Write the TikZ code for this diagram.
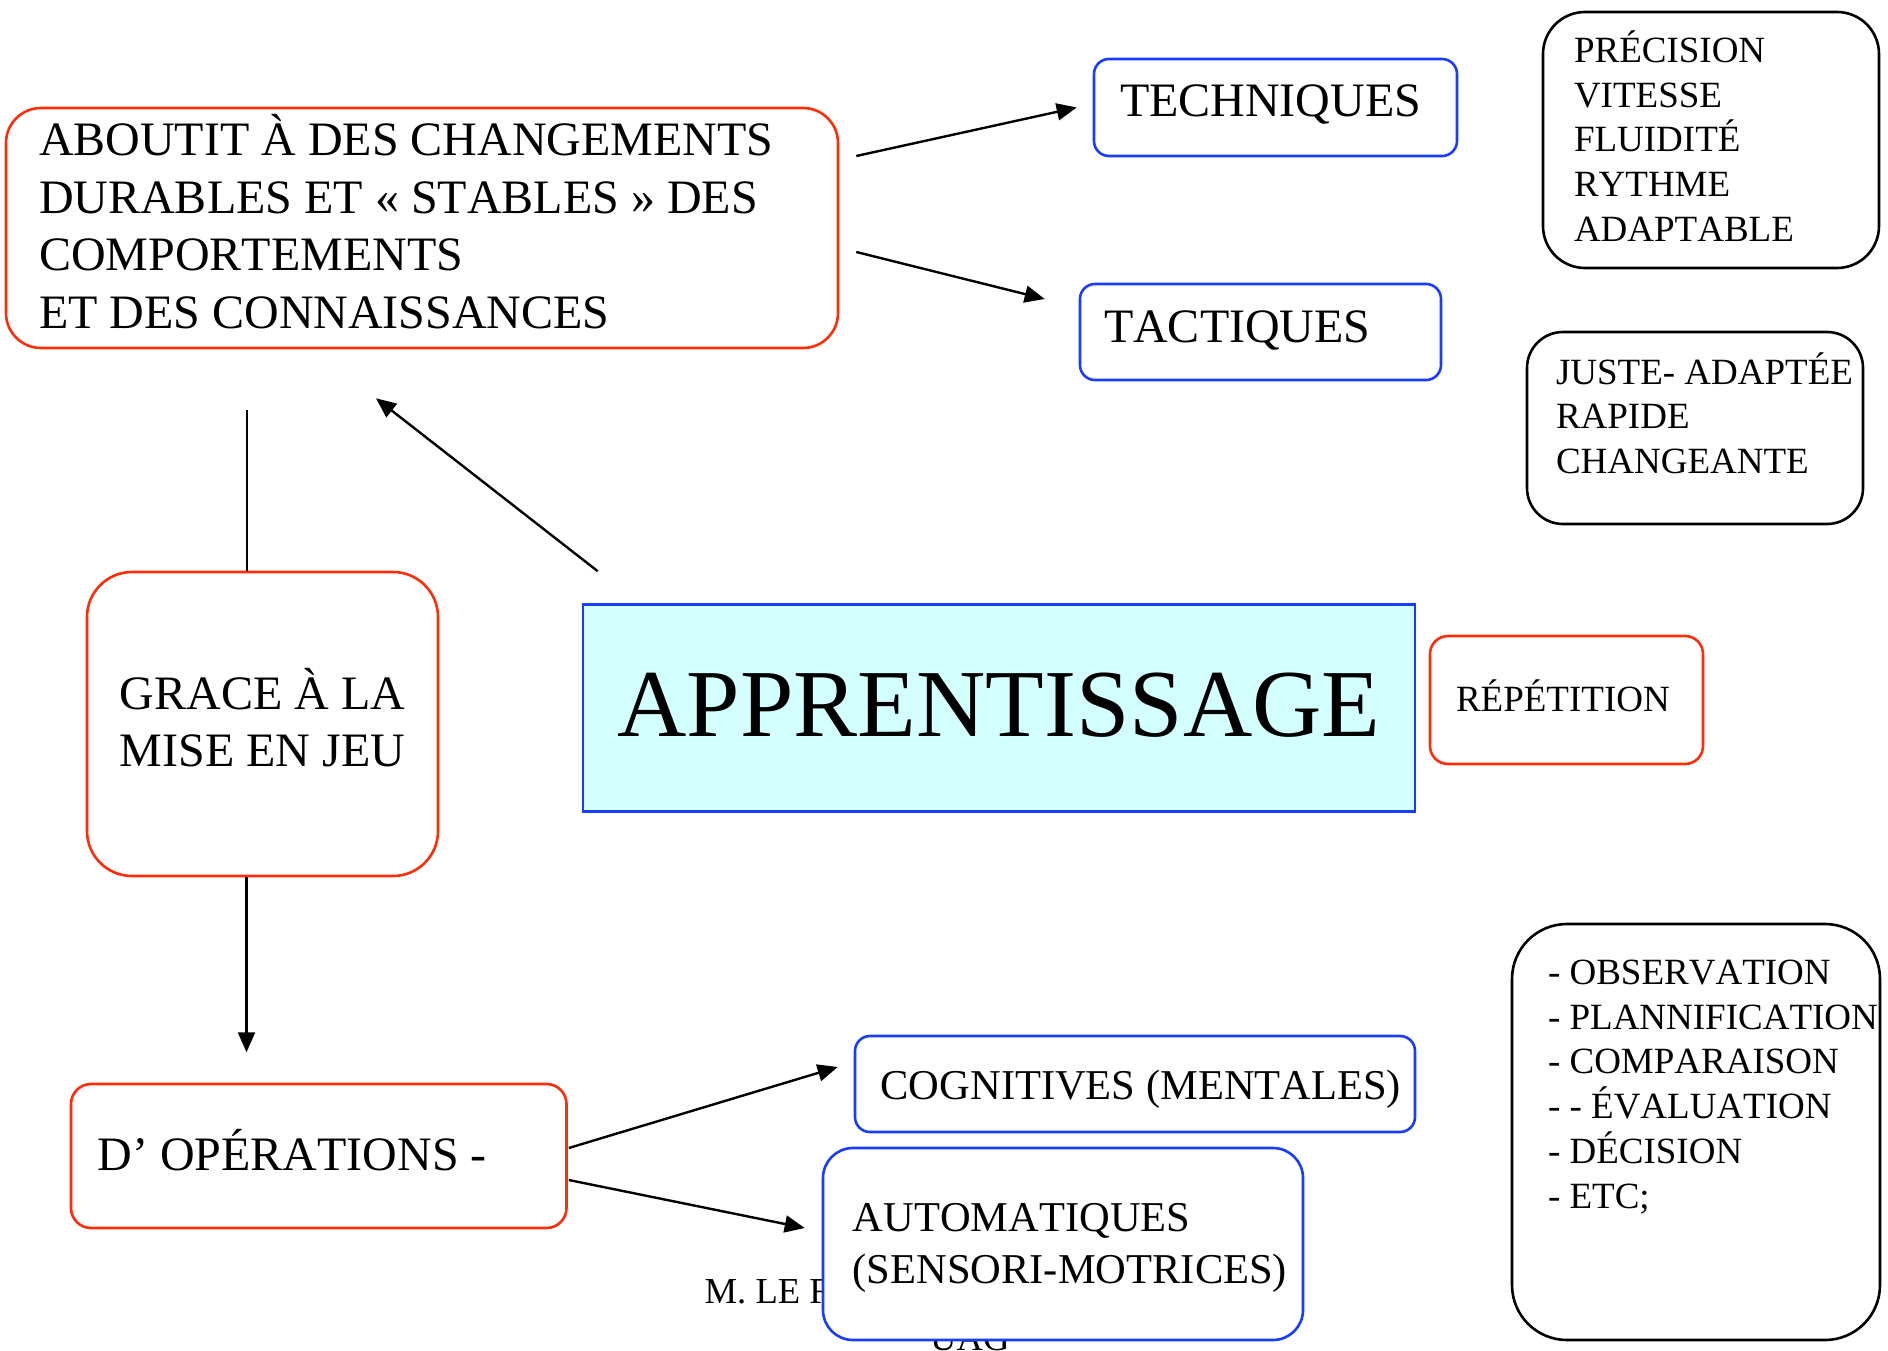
\documentclass[tikz,border=0pt]{standalone}
\usepackage{fontspec}
\setmainfont{Liberation Serif}[Kerning=Off]
\usetikzlibrary{arrows.meta}

\definecolor{boxred}{RGB}{255,45,10}
\definecolor{boxblue}{RGB}{25,60,255}
\definecolor{cyanfill}{RGB}{212,255,255}

\begin{document}
\begin{tikzpicture}[x=1pt,y=-1pt,
  redbox/.style={draw=boxred, line width=2.6pt, fill=white, inner ysep=0pt, align=flush left},
  bluebox/.style={draw=boxblue, line width=2.6pt, fill=white, inner ysep=0pt, align=flush left},
  blackbox/.style={draw=black, line width=2.6pt, fill=white, inner ysep=0pt, align=flush left},
  bigtxt/.style={font=\fontsize{48pt}{57.4pt}\selectfont},
  midtxt/.style={font=\fontsize{42.5pt}{51.6pt}\selectfont},
  smalltxt/.style={font=\fontsize{37pt}{44.7pt}\selectfont},
  foottxt/.style={font=\fontsize{36.6pt}{47pt}\selectfont, anchor=base west, inner sep=0pt},
  arr/.style={-{Triangle[length=20pt,width=17pt]}, line width=2.4pt},
  conn/.style={line width=2pt}]
  \useasboundingbox (0,0) rectangle (1888,1351);
  \clip (0,0) rectangle (1888,1351);
  \fill[white] (0,0) rectangle (1888,1351);

% top row
\node[redbox, bigtxt, text width=766pt, inner xsep=33pt, text height=48pt, text depth=192pt, rounded corners=35pt] (about) at (422,228)
  {ABOUTIT À DES CHANGEMENTS\\ DURABLES ET « STABLES » DES\\ COMPORTEMENTS\\ ET DES CONNAISSANCES};
\node[bluebox, bigtxt, text width=311pt, inner xsep=26pt, text height=58pt, text depth=39pt, rounded corners=15pt] (tech) at (1275.5,107.5) {TECHNIQUES};
\node[bluebox, bigtxt, text width=313pt, inner xsep=24pt, text height=58pt, text depth=38pt, rounded corners=15pt] (tact) at (1260.5,332) {TACTIQUES};
\node[blackbox, smalltxt, text width=274pt, inner xsep=31pt, text height=50.4pt, text depth=205.6pt, rounded corners=42pt] (qual) at (1711,140)
  {PRÉCISION\\ VITESSE\\ FLUIDITÉ\\ RYTHME\\ ADAPTABLE};
\node[blackbox, smalltxt, text width=278pt, inner xsep=29pt, text height=52pt, text depth=140pt, rounded corners=36pt] (juste) at (1695,428)
  {\mbox{JUSTE- ADAPTÉE}\\ RAPIDE\\ CHANGEANTE};

% middle row
\node[draw=boxblue, line width=2.6pt, fill=cyanfill, font=\fontsize{96pt}{110pt}\selectfont, align=flush center, text width=832pt,
  inner xsep=0pt, inner ysep=0pt, text height=132.2pt, text depth=74.8pt] (appr) at (999,708) {APPRENTISSAGE};
\node[redbox, smalltxt, text width=221pt, inner xsep=26pt, text height=75.6pt, text depth=52.4pt, rounded corners=18pt] (rep) at (1566.5,700) {RÉPÉTITION};
\node[redbox, bigtxt, align=flush center, text width=351pt, inner xsep=0pt, text height=137.5pt, text depth=166.5pt, rounded corners=45pt] (grace) at (262.5,724)
  {GRACE À LA\\ MISE EN JEU};

% bottom row
\node[redbox, bigtxt, text width=442.5pt, inner xsep=26.5pt, text height=86.7pt, text depth=57.3pt, rounded corners=20pt] (oper) at (318.75,1156) {D’ OPÉRATIONS -};
\node[bluebox, midtxt, text width=508.8pt, inner xsep=25.6pt, text height=63pt, text depth=33pt, rounded corners=15pt] (cogn) at (1135,1084) {\mbox{COGNITIVES (MENTALES)}};
\node[foottxt] (foot1) at (704.5,1303) {M. LE F};
\node[foottxt] (foot2) at (930,1350) {UAG};
\node[bluebox, midtxt, text width=420.6pt, inner xsep=29.7pt, text height=83.7pt, text depth=108.3pt, rounded corners=30pt] (auto) at (1063,1244)
  {AUTOMATIQUES\\ \mbox{(SENSORI-MOTRICES)}};
\node[blackbox, smalltxt, text width=296pt, inner xsep=36pt, text height=60.5pt, text depth=355.5pt, rounded corners=55pt] (etapes) at (1696,1132)
  {\mbox{- OBSERVATION}\\ \mbox{- PLANNIFICATION}\\ \mbox{- COMPARAISON}\\ \mbox{- - ÉVALUATION}\\ - DÉCISION\\ - ETC;};

\draw[arr] ([xshift=17pt,yshift=72pt]about.east) -- ([xshift=-16pt]tech.west);
\draw[arr] ([xshift=17pt,yshift=-24pt]about.east) -- ([xshift=-34pt,yshift=33pt]tact.west);
\draw[arr] ([xshift=16pt,yshift=32pt]appr.north west) -- ([xshift=-46pt,yshift=-49pt]about.south);
\draw[conn] ([xshift=-16pt]grace.north) -- ++(0,-161);
\draw[arr] ([xshift=-16pt]grace.south) -- ++(0,175);
\draw[arr] ([xshift=1pt,yshift=8pt]oper.east) -- ([xshift=-16pt,yshift=17pt]cogn.west);
\draw[arr] ([xshift=1pt,yshift=-24pt]oper.east) -- ([xshift=-17pt,yshift=16pt]auto.west);

\end{tikzpicture}
\end{document}
